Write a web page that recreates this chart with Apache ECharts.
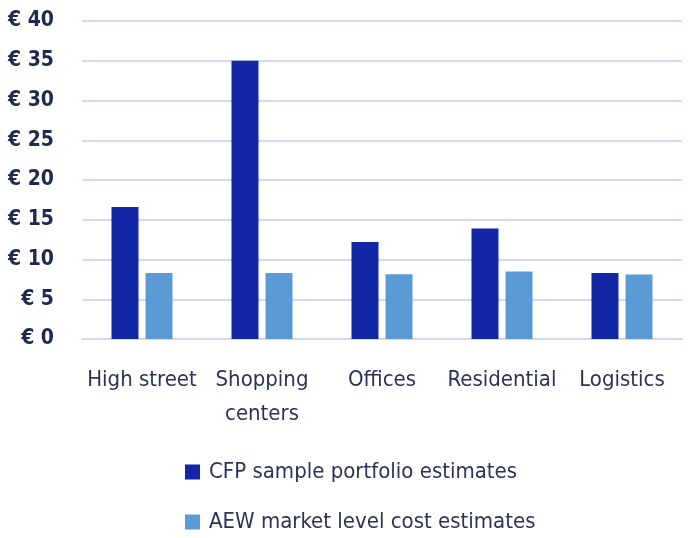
<!DOCTYPE html>
<html>
<head>
<meta charset="utf-8">
<script src="https://cdn.jsdelivr.net/npm/echarts@6/dist/echarts.min.js"></script>
<style>
  html, body { margin: 0; padding: 0; background: #ffffff; }
  #chart { width: 693px; height: 538px; }
</style>
</head>
<body>
<div id="chart"></div>
<script>
// Cost estimates per sector (€)
const categories = ['High street', 'Shopping\ncenters', 'Offices', 'Residential', 'Logistics'];
const cfpValues = [16.6, 35.0, 12.2, 13.9, 8.3];
const aewValues = [8.3, 8.3, 8.15, 8.5, 8.1];
const seriesNames = ['CFP sample portfolio estimates', 'AEW market level cost estimates'];
const yMin = 0, yMax = 40, yStep = 5;

const FONT = '"DejaVu Sans Condensed", "DejaVu Sans", sans-serif';
const NAVY = '#1f2a4f';
const TEXT = '#2b3457';
const colors = ['#1226a6', '#5b9bd5'];

// one legend block per series, stacked below the plot
function legendBlock(name, top) {
  return {
    left: 180,
    top: top,
    itemWidth: 15,
    itemHeight: 15,
    icon: 'rect',
    textStyle: { fontFamily: FONT, fontSize: 22, color: TEXT, padding: [0, 0, 0, 4] },
    data: [name]
  };
}

const chart = echarts.init(document.getElementById('chart'), null, { renderer: 'canvas' });
chart.setOption({
  animation: false,
  backgroundColor: '#ffffff',
  grid: { left: 82, right: 11, top: 21, bottom: 199, containLabel: false, outerBoundsMode: 'none' },
  xAxis: {
    type: 'category',
    data: categories,
    axisLine: { show: true, lineStyle: { color: '#d3d9ee', width: 2 } },
    axisTick: { show: false },
    axisLabel: {
      margin: 24,
      fontFamily: FONT,
      fontSize: 22,
      lineHeight: 34,
      color: TEXT,
      interval: 0
    }
  },
  yAxis: {
    type: 'value',
    min: yMin, max: yMax, interval: yStep,
    axisLine: { show: false },
    axisTick: { show: false },
    splitLine: { lineStyle: { color: '#d3d9ee', width: 2 } },
    axisLabel: {
      margin: 28,
      fontFamily: FONT,
      fontSize: 21,
      fontWeight: 'bold',
      color: NAVY,
      formatter: v => '€ ' + v
    }
  },
  legend: [legendBlock(seriesNames[0], 456), legendBlock(seriesNames[1], 506)],
  series: [
    {
      name: seriesNames[0],
      type: 'bar',
      data: cfpValues,
      barWidth: 27,
      barGap: '26%',
      itemStyle: { color: colors[0] }
    },
    {
      name: seriesNames[1],
      type: 'bar',
      data: aewValues,
      barWidth: 27,
      itemStyle: { color: colors[1] }
    }
  ]
});
</script>
</body>
</html>
